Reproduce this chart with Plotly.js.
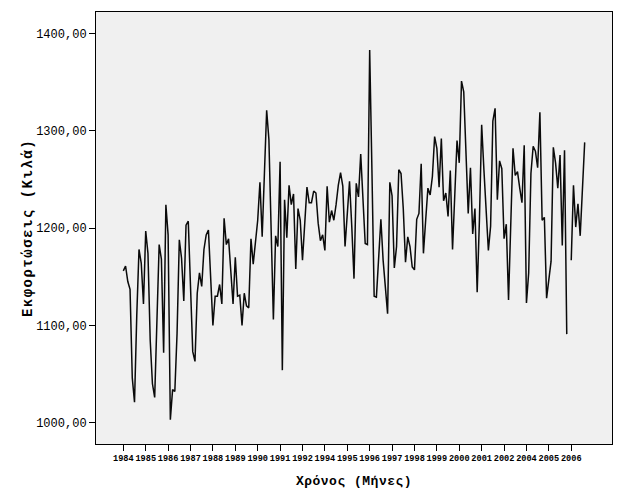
<!DOCTYPE html>
<html>
<head>
<meta charset="utf-8">
<script src="https://cdn.plot.ly/plotly-3.0.1.min.js"></script>
<style>html,body{margin:0;padding:0;background:#fff;}#chart{width:624px;height:500px;}
.ytitle{letter-spacing:1.5px;}
.xtitle{letter-spacing:0.5px;}
</style>
</head>
<body>
<div id="chart"></div>
<script>
// Monthly landings (kg); null = missing month
const landings = [
  1156, 1161, 1145, 1137, 1046, 1021, 1110, 1178, 1164, 1122,
  1197, 1174, 1085, 1040, 1026, 1110, 1183, 1168, 1072, 1224,
  1193, 1003, 1034, 1032, 1092, 1188, 1169, 1125, 1203, 1207,
  1140, 1073, 1063, 1133, 1154, 1140, 1178, 1193, 1198, 1154,
  1100, 1130, 1130, 1142, 1122, 1210, 1183, 1189, 1155, 1122,
  1170, 1130, 1131, 1100, 1133, 1120, 1118, 1189, 1163, 1184,
  1208, 1247, 1191, 1256, 1321, 1291, 1195, 1106, 1192, 1181,
  1268, 1054, 1229, 1190, 1244, 1224, 1235, 1158, 1220, 1208,
  1167, 1208, 1242, 1226, 1226, 1238, 1236, 1205, 1187, 1193,
  1177, 1243, 1206, 1218, 1208, 1224, 1244, 1257, 1243, 1181,
  1212, 1248, 1202, 1148, 1246, 1232, 1276, 1229, 1184, 1183,
  1383, 1260, 1130, 1129, 1167, 1209, 1167, 1143, 1112, 1247,
  1233, 1159, 1181, 1260, 1256, 1220, 1165, 1191, 1181, 1160,
  1157, 1209, 1215, 1266, 1174, 1208, 1241, 1234, 1253, 1294,
  1282, 1242, 1292, 1228, 1236, 1212, 1259, 1178, 1232, 1290,
  1267, 1351, 1340, 1277, 1215, 1262, 1194, 1220, 1134, 1208,
  1306, 1260, 1218, 1177, 1202, 1310, 1323, 1229, 1269, 1261,
  1189, 1204, 1126, 1202, 1282, 1254, 1258, 1241, 1226, 1285,
  1123, 1154, 1256, 1284, 1279, 1262, 1319, 1208, 1211, 1128,
  1147, 1166, 1283, 1267, 1241, 1275, 1182, 1280, 1091, null,
  1167, 1244, 1201, 1225, 1192, 1239, 1288
];
const monthIndex = landings.map((_, i) => i);
const xTickVals = [0,10,20,30,40,50,60,70,80,90,100,110,120,130,140,150,160,170,180,190,200];
const xTickText = ['1984','1985','1986','1987','1988','1989','1990','1991','1992','1994','1995',
                   '1996','1997','1998','1999','2000','2001','2002','2004','2005','2006'];
const yTickVals = [1000, 1100, 1200, 1300, 1400];
const yTickText = ['1000,00', '1100,00', '1200,00', '1300,00', '1400,00'];

const trace = {
  x: monthIndex,
  y: landings,
  type: 'scatter',
  mode: 'lines',
  connectgaps: false,
  line: {color: '#0a0a0a', width: 1.5},
  hoverinfo: 'x+y'
};

const mono = 'Liberation Mono, DejaVu Sans Mono, monospace';
const layout = {
  width: 624, height: 500,
  margin: {l: 96, r: 12, t: 12, b: 56},
  paper_bgcolor: '#ffffff',
  plot_bgcolor: '#f0f0f0',
  showlegend: false,
  xaxis: {
    range: [-12.2, 218.2],
    tickmode: 'array', tickvals: xTickVals, ticktext: xTickText,
    tickangle: 0,
    ticks: 'outside', ticklen: 6, tickcolor: '#000', tickwidth: 1,
    tickfont: {family: mono, size: 8.6, color: '#000', weight: 'bold'},
    showgrid: false, zeroline: false,
    showline: true, mirror: true, linecolor: '#000', linewidth: 1,
    title: {text: 'Χρόνος (Μήνες)', font: {family: mono, size: 13, color: '#000', weight: 'bold'}, standoff: 12}
  },
  yaxis: {
    range: [978.1, 1422],
    tickmode: 'array', tickvals: yTickVals, ticktext: yTickText,
    ticks: 'outside', ticklen: 6, tickcolor: '#000', tickwidth: 1,
    tickfont: {family: mono, size: 12, color: '#000'},
    showgrid: false, zeroline: false,
    showline: true, mirror: true, linecolor: '#000', linewidth: 1,
    title: {text: 'Εκφορτώσεις (Κιλά)', font: {family: mono, size: 14, color: '#000', weight: 'bold'}, standoff: 0}
  }
};

Plotly.newPlot('chart', [trace], layout, {displayModeBar: false, staticPlot: true});
</script>
</body>
</html>
